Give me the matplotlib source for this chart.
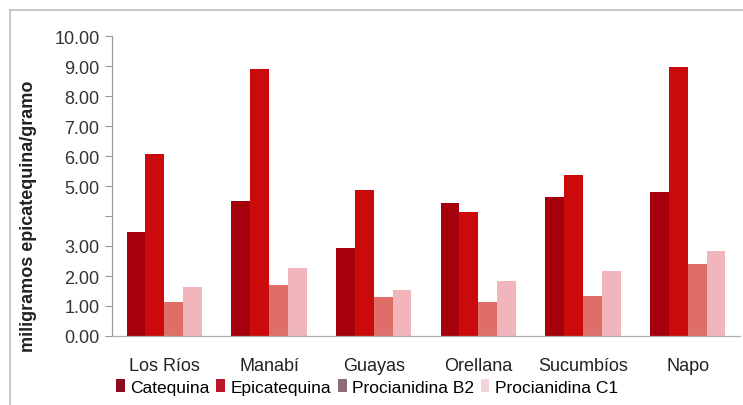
import matplotlib
matplotlib.use("Agg")
import matplotlib.pyplot as plt
import numpy as np
from matplotlib.patches import Patch
from matplotlib.lines import Line2D

plt.rcParams['font.family'] = ['Liberation Sans', 'DejaVu Sans']

categories = ["Los Ríos", "Manabí", "Guayas", "Orellana", "Sucumbíos", "Napo"]
series_names = ["Catequina", "Epicatequina", "Procianidina B2", "Procianidina C1"]
catequina = [3.46, 4.51, 2.92, 4.43, 4.63, 4.80]
epicatequina = [6.06, 8.90, 4.87, 4.13, 5.36, 8.97]
procianidina_b2 = [1.12, 1.71, 1.29, 1.13, 1.33, 2.39]
procianidina_c1 = [1.64, 2.26, 1.54, 1.82, 2.16, 2.85]
y_ticks = [0, 1, 2, 3, 4, 5, 6, 7, 8, 9, 10]
y_tick_labels = ["0.00", "1.00", "2.00", "3.00", "", "5.00", "6.00", "7.00", "8.00", "9.00", "10.00"]
y_label = "miligramos epicatequina/gramo"

series = [catequina, epicatequina, procianidina_b2, procianidina_c1]
bar_colors = ["#a6000c", "#cb0a0c", "#e06e68", "#f0b6bc"]
legend_colors = ["#8a0c1e", "#b81828", "#8e6e76", "#f2d4d8"]

W, H = 743, 406
fig = plt.figure(figsize=(W / 100, H / 100), dpi=100)
ax = fig.add_axes([112 / W, (H - 337) / H, (740 - 112) / W, (337 - 37) / H])

x = np.arange(len(categories))
bw = 0.18
for i, (vals, col) in enumerate(zip(series, bar_colors)):
    ax.bar(x + (i - 1.5) * bw, vals, width=bw, color=col, linewidth=0)

ax.set_xlim(-0.5, len(categories) - 0.5)
ax.set_ylim(0, 10)
ax.set_yticks(y_ticks)
ax.set_yticklabels(y_tick_labels, fontsize=13, color="#333333")
ax.tick_params(axis='y', length=5, width=0.8, color="#9a9a9a", pad=4, direction='out')
ax.set_xticks(x)
ax.set_xticklabels(categories, fontsize=13, color="#222222")
ax.tick_params(axis='x', length=0, pad=15)

for s in ['top', 'right']:
    ax.spines[s].set_visible(False)
ax.spines['left'].set_color("#9a9a9a")
ax.spines['bottom'].set_color("#b0b0b0")
ax.spines['left'].set_linewidth(0.9)
ax.spines['bottom'].set_linewidth(0.9)

fig.text(29 / W, 1 - 216 / H, y_label, rotation=90, ha='center', va='center',
         fontsize=13, fontweight='bold', color="#222222")

handles = [Patch(facecolor=c, edgecolor='none') for c in legend_colors]
fig.legend(handles, series_names, loc='center', bbox_to_anchor=(367 / W, 1 - 388 / H),
           ncol=4, frameon=False, fontsize=12.5, handlelength=0.5, handleheight=0.7,
           handletextpad=0.3, columnspacing=0.4, borderpad=0, borderaxespad=0)

# outer frame lines (top and left)
fig.add_artist(Line2D([10 / W, 1], [1 - 11 / H, 1 - 11 / H], transform=fig.transFigure,
                      color="#bdbdbd", linewidth=1.2))
fig.add_artist(Line2D([10 / W, 10 / W], [0, 1 - 11 / H], transform=fig.transFigure,
                      color="#bdbdbd", linewidth=1.2))

fig.savefig("out.png", dpi=100)
